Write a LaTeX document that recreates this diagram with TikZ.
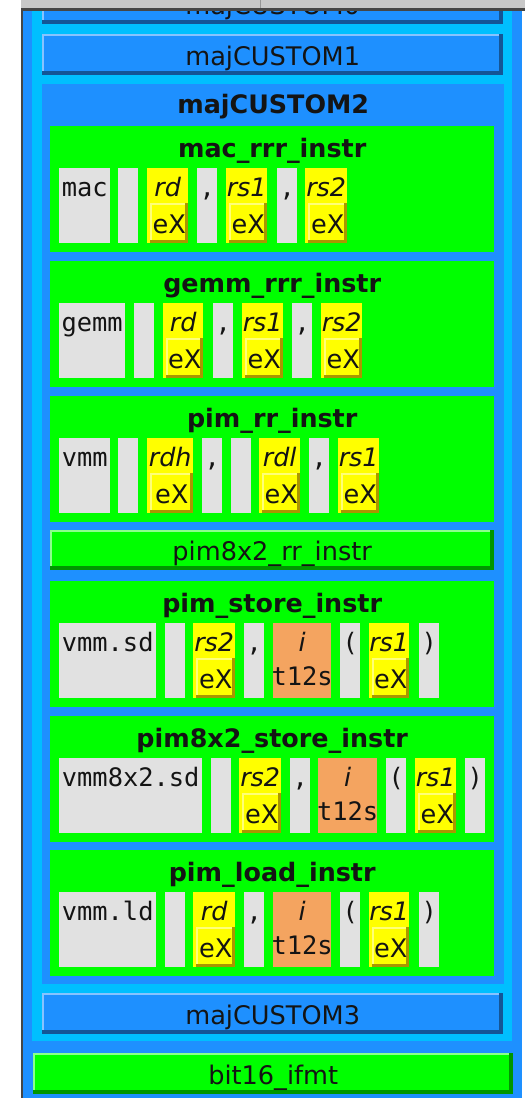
\documentclass[tikz,border=0pt]{standalone}
\usepackage{fontspec}
\setmainfont{DejaVu Sans}
\setmonofont{DejaVu Sans Mono}
\usetikzlibrary{calc}

\definecolor{dodger}{RGB}{30,144,255}
\definecolor{skyb}{RGB}{0,191,255}
\definecolor{grn}{RGB}{0,255,0}
\definecolor{litgray}{RGB}{225,225,225}
\definecolor{fieldyel}{RGB}{255,255,0}
\definecolor{immorange}{RGB}{244,164,96}
\definecolor{bluehi}{RGB}{135,195,255}
\definecolor{bluelo}{RGB}{20,85,150}
\definecolor{grnhi}{RGB}{140,255,140}
\definecolor{grnlo}{RGB}{0,150,0}
\definecolor{yelhi}{RGB}{255,255,120}
\definecolor{yello}{RGB}{170,150,0}
\definecolor{ink}{RGB}{20,20,20}
\definecolor{barGray}{RGB}{200,200,200}
\definecolor{tickGray}{RGB}{150,150,150}
\definecolor{frameDark}{RGB}{70,70,70}

\tikzset{
  % raised look: light top/left edge, dark bottom/right edge
  bevel/.style n args={3}{path picture={
    \fill[#1] (path picture bounding box.north west) rectangle ([xshift=2pt]path picture bounding box.south west);
    \fill[#1] (path picture bounding box.north west) rectangle ([yshift=-2pt]path picture bounding box.north east);
    \fill[#2] ([yshift=#3]path picture bounding box.south west) rectangle (path picture bounding box.south east);
    \fill[#2] ([xshift=-#3]path picture bounding box.north east) rectangle (path picture bounding box.south east);
  }},
  txt/.style={font=\fontsize{25.6}{30}\selectfont, text=ink},
  monotxt/.style={font=\fontsize{25.4}{30}\selectfont\ttfamily, text=ink},
  boldtxt/.style={font=\fontsize{25.4}{30}\selectfont\bfseries, text=ink},
  major/.style={rectangle, fill=dodger, anchor=north west, inner sep=0pt,
    minimum width=461pt, text height=31pt, text depth=10pt, bevel={bluehi}{bluelo}{4pt}, txt},
  flatgrp/.style={rectangle, fill=grn, anchor=north west, inner sep=0pt,
    minimum width=444pt, text height=31pt, text depth=95pt, boldtxt},
  grnbar/.style={rectangle, fill=grn, anchor=north west, inner sep=0pt,
    text height=30pt, text depth=10pt, bevel={grnhi}{grnlo}{4pt}, txt},
  litcell/.style={rectangle, fill=litgray, anchor=north west, inner sep=0pt,
    text height=28pt, text depth=47pt, monotxt},
  fieldcol/.style={rectangle, fill=fieldyel, anchor=north west, inner sep=0pt, minimum height=75pt},
  immcol/.style={rectangle, fill=immorange, anchor=north west, inner sep=0pt, minimum height=75pt},
  fieldlbl/.style={anchor=base, inner sep=0pt, txt, font=\fontsize{25.4}{30}\selectfont\itshape},
  exbox/.style={rectangle, fill=fieldyel, anchor=south east, inner sep=0pt,
    text height=30pt, text depth=10pt, bevel={yelhi}{yello}{3pt}, txt},
}

% literal cell: name, x, top, width, text
\newcommand\mklit[5]{\node[litcell, minimum width=#4pt] (#1) at (#2,#3) {#5};}
% register field: name, x, top, width, field name
\newcommand\mkfield[5]{%
  \node[fieldcol, minimum width=#4pt] (#1) at (#2,#3) {};
  \node[fieldlbl] (#1-lbl) at ([yshift=-28pt]#1.north) {#5};
  \node[exbox, minimum width=#4pt-3pt] (#1-ex) at (#1.south east) {eX};}
% immediate field: name, x, top, width
\newcommand\mkimm[4]{%
  \node[immcol, minimum width=#4pt] (#1) at (#2,#3) {};
  \node[fieldlbl] (#1-lbl) at ([yshift=-28pt]#1.north) {i};
  \node[monotxt, anchor=base, inner sep=0pt] (#1-ty) at ([yshift=13pt]#1.south) {t12s};}

\begin{document}
\begin{tikzpicture}[x=1pt,y=-1pt]
\fill[white] (0,0) rectangle (525,1098);
\useasboundingbox (0,0) rectangle (525,1098);

% window chrome
\fill[barGray] (21,0) rectangle (525,8);
\draw[tickGray, line width=1pt] (260,0) -- (260,8);
\fill[frameDark] (21,8) rectangle (525,11);
\fill[frameDark] (21,8) rectangle (23,1098);

\begin{scope}
\clip (23,11) rectangle (522,1098);
\fill[dodger] (23,11) rectangle (522,1098);
\fill[skyb] (32,-60) rectangle (512,1041);

\node[major] (maj0) at (42,-17) {majCUSTOM0};
\node[major] (maj1) at (42,34) {majCUSTOM1};

% majCUSTOM2 group
\node[rectangle, fill=dodger, anchor=north west, inner sep=0pt, minimum width=462pt,
  text height=29pt, text depth=871pt, boldtxt] (maj2) at (42,84) {majCUSTOM2};

% mac_rrr_instr
\node[flatgrp] (mac) at (50,126) {mac\_rrr\_instr};
\mklit{mac-op}{59}{168}{51}{mac}
\mklit{mac-sp}{118}{168}{20}{}
\mkfield{mac-rd}{147}{168}{41}{rd}
\mklit{mac-c1}{197}{168}{20}{,}
\mkfield{mac-rs1}{226}{168}{41}{rs1}
\mklit{mac-c2}{277}{168}{20}{,}
\mkfield{mac-rs2}{305}{168}{42}{rs2}

% gemm_rrr_instr
\node[flatgrp] (gemm) at (50,261) {gemm\_rrr\_instr};
\mklit{gemm-op}{59}{303}{66}{gemm}
\mklit{gemm-sp}{134}{303}{20}{}
\mkfield{gemm-rd}{163}{303}{40}{rd}
\mklit{gemm-c1}{213}{303}{20}{,}
\mkfield{gemm-rs1}{242}{303}{41}{rs1}
\mklit{gemm-c2}{292}{303}{20}{,}
\mkfield{gemm-rs2}{321}{303}{41}{rs2}

% pim_rr_instr
\node[flatgrp] (pimrr) at (50,396) {pim\_rr\_instr};
\mklit{pimrr-op}{59}{438}{51}{vmm}
\mklit{pimrr-sp1}{118}{438}{20}{}
\mkfield{pimrr-rdh}{147}{438}{46}{rdh}
\mklit{pimrr-c1}{202}{438}{20}{,}
\mklit{pimrr-sp2}{231}{438}{20}{}
\mkfield{pimrr-rdl}{259}{438}{41}{rdl}
\mklit{pimrr-c2}{309}{438}{20}{,}
\mkfield{pimrr-rs1}{338}{438}{41}{rs1}

% pim8x2_rr_instr (collapsed)
\node[grnbar, minimum width=444pt] (pim8rr) at (50,530) {pim8x2\_rr\_instr};

% pim_store_instr
\node[flatgrp] (pimst) at (50,581) {pim\_store\_instr};
\mklit{pimst-op}{59}{623}{97}{vmm.sd}
\mklit{pimst-sp}{165}{623}{20}{}
\mkfield{pimst-rs2}{193}{623}{42}{rs2}
\mklit{pimst-c1}{244}{623}{20}{,}
\mkimm{pimst-imm}{273}{623}{58}
\mklit{pimst-lp}{340}{623}{20}{(}
\mkfield{pimst-rs1}{369}{623}{40}{rs1}
\mklit{pimst-rp}{419}{623}{20}{)}

% pim8x2_store_instr
\node[flatgrp] (pim8st) at (50,716) {pim8x2\_store\_instr};
\mklit{pim8st-op}{59}{758}{143}{vmm8x2.sd}
\mklit{pim8st-sp}{211}{758}{20}{}
\mkfield{pim8st-rs2}{239}{758}{42}{rs2}
\mklit{pim8st-c1}{290}{758}{20}{,}
\mkimm{pim8st-imm}{318}{758}{59}
\mklit{pim8st-lp}{386}{758}{20}{(}
\mkfield{pim8st-rs1}{415}{758}{41}{rs1}
\mklit{pim8st-rp}{465}{758}{20}{)}

% pim_load_instr
\node[flatgrp] (pimld) at (50,850) {pim\_load\_instr};
\mklit{pimld-op}{59}{892}{97}{vmm.ld}
\mklit{pimld-sp}{165}{892}{20}{}
\mkfield{pimld-rd}{193}{892}{42}{rd}
\mklit{pimld-c1}{244}{892}{20}{,}
\mkimm{pimld-imm}{273}{892}{58}
\mklit{pimld-lp}{340}{892}{20}{(}
\mkfield{pimld-rs1}{369}{892}{40}{rs1}
\mklit{pimld-rp}{419}{892}{20}{)}

\node[major] (maj3) at (42,993) {majCUSTOM3};

\node[grnbar, minimum width=480pt, text height=31pt] (bit16) at (33,1053) {bit16\_ifmt};
\end{scope}
\end{tikzpicture}
\end{document}
